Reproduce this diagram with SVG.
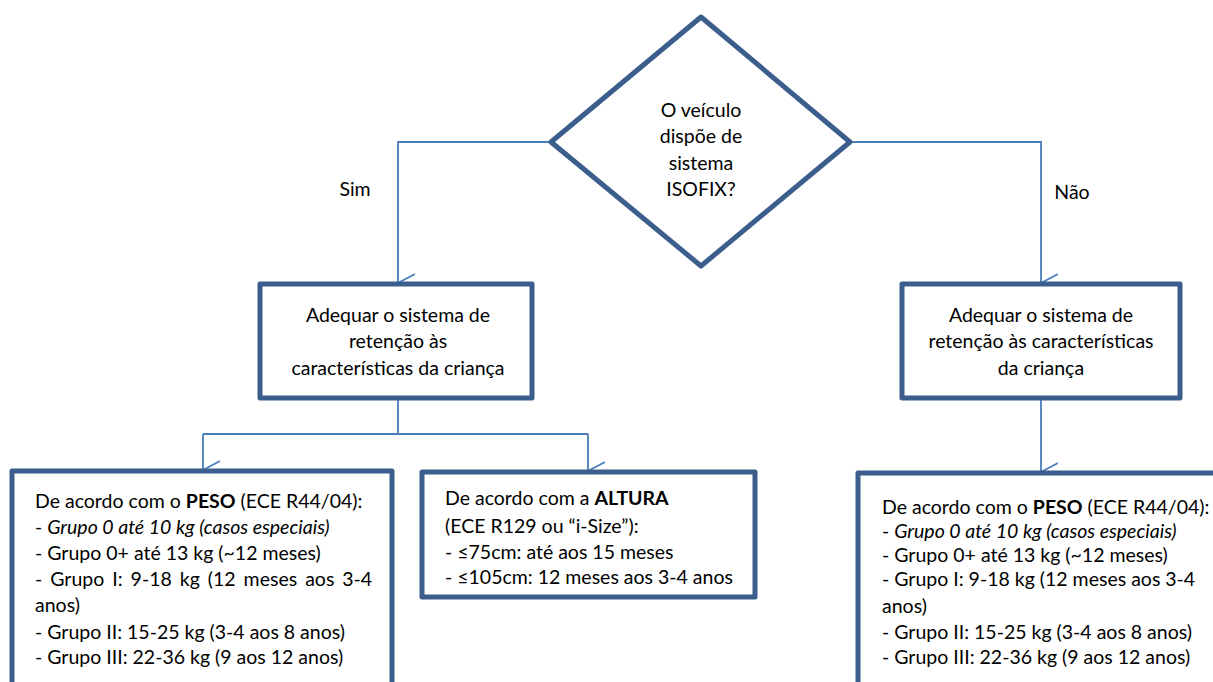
<svg xmlns="http://www.w3.org/2000/svg" width="1213" height="682" viewBox="0 0 1213 682">
<style>
.node{fill:#fff;stroke:#3b5e8c;stroke-width:5;stroke-linejoin:round}
.c{fill:none;stroke:#4a7ebb;stroke-width:1.8}
text{font-family:Lato,"Liberation Sans",sans-serif;font-size:19.5px;fill:#000}
.m{text-anchor:middle}
</style>
<defs>
<marker id="arr" viewBox="0 0 20 18" refX="10" refY="17" markerWidth="20" markerHeight="18" markerUnits="userSpaceOnUse" orient="auto-start-reverse">
<path d="M1,0 L10,17 L19,0" fill="none" stroke="#4a7ebb" stroke-width="1.8"/>
</marker>
</defs>
<rect width="1213" height="682" fill="#fff"/>
<g id="connectors">
<path class="c" d="M551,142 H398 V283" marker-end="url(#arr)"/>
<path class="c" d="M850,142 H1041 V283" marker-end="url(#arr)"/>
<path class="c" d="M398,398 V434"/>
<path class="c" d="M203,434 H588"/>
<path class="c" d="M203,434 V470" marker-end="url(#arr)"/>
<path class="c" d="M588,434 V471" marker-end="url(#arr)"/>
<path class="c" d="M1041,398 V472" marker-end="url(#arr)"/>
<text x="355" y="196" class="m">Sim</text>
<text x="1072" y="199" class="m">Não</text>
</g>
<g id="decision">
<polygon class="node" points="701,17 850,142 701,266 551,142"/>
<text class="m" x="701" y="117">O veículo</text>
<text class="m" x="701" y="143">dispõe de</text>
<text class="m" x="701" y="170">sistema</text>
<text class="m" x="701" y="196">ISOFIX?</text>
</g>
<g id="adequar-sim">
<rect class="node" x="260" y="284" width="272" height="114"/>
<text class="m" x="398" y="322">Adequar o sistema de</text>
<text class="m" x="398" y="348">retenção às</text>
<text class="m" x="398" y="375">características da criança</text>
</g>
<g id="adequar-nao">
<rect class="node" x="902" y="284" width="278" height="114"/>
<text class="m" x="1041" y="322">Adequar o sistema de</text>
<text class="m" x="1041" y="348">retenção às características</text>
<text class="m" x="1041" y="375">da criança</text>
</g>
<g id="peso-sim">
<rect class="node" x="12" y="471" width="380" height="240"/>
<text x="35" y="508">De acordo com o <tspan font-weight="bold">PESO</tspan> (ECE R44/04):</text>
<text x="35" y="534">- <tspan font-style="italic">Grupo 0 até 10 kg (casos especiais)</tspan></text>
<text x="35" y="560">- Grupo 0+ até 13 kg (~12 meses)</text>
<text x="35" y="586" word-spacing="3">-  Grupo I: 9-18 kg (12 meses aos 3-4</text>
<text x="35" y="612">anos)</text>
<text x="35" y="639">- Grupo II: 15-25 kg (3-4 aos 8 anos)</text>
<text x="35" y="664">- Grupo III: 22-36 kg (9 aos 12 anos)</text>
</g>
<g id="altura">
<rect class="node" x="422" y="472" width="333" height="125"/>
<text x="445" y="505">De acordo com a <tspan font-weight="bold">ALTURA</tspan></text>
<text x="445" y="533">(ECE R129 ou “i-Size”):</text>
<text x="445" y="559">- ≤75cm: até aos 15 meses</text>
<text x="445" y="584">- ≤105cm: 12 meses aos 3-4 anos</text>
</g>
<g id="peso-nao">
<rect class="node" x="858" y="473" width="380" height="240"/>
<text x="882" y="514">De acordo com o <tspan font-weight="bold">PESO</tspan> (ECE R44/04):</text>
<text x="882" y="538">- <tspan font-style="italic">Grupo 0 até 10 kg (casos especiais)</tspan></text>
<text x="882" y="562">- Grupo 0+ até 13 kg (~12 meses)</text>
<text x="882" y="586">- Grupo I: 9-18 kg (12 meses aos 3-4</text>
<text x="882" y="613">anos)</text>
<text x="882" y="639">- Grupo II: 15-25 kg (3-4 aos 8 anos)</text>
<text x="882" y="664">- Grupo III: 22-36 kg (9 aos 12 anos)</text>
</g>
</svg>
